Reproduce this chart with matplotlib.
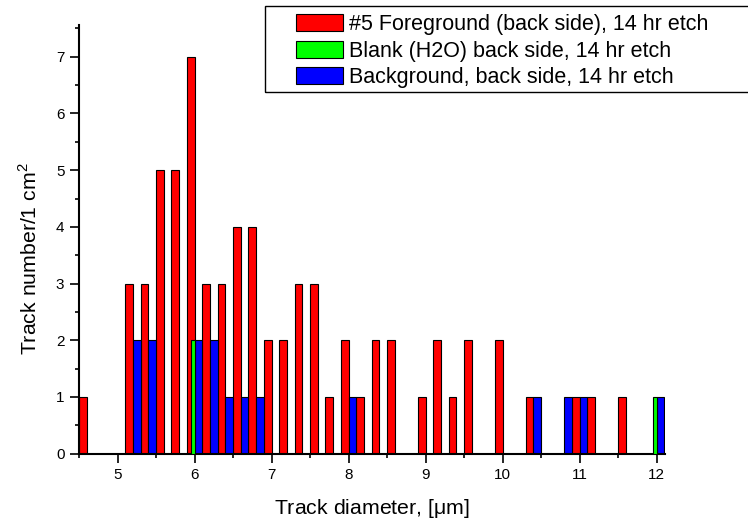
import matplotlib
matplotlib.use("Agg")
import matplotlib.pyplot as plt
from matplotlib.patches import Rectangle, Patch
from matplotlib.ticker import MultipleLocator

# Data
red_x = [4.6, 5.2, 5.4, 5.6, 5.8, 6.0, 6.2, 6.4, 6.6, 6.8, 7.0, 7.2, 7.4, 7.6,
         7.8, 8.0, 8.2, 8.4, 8.6, 9.0, 9.2, 9.4, 9.6, 10.0, 10.4, 11.0, 11.2, 11.6]
red_y = [1, 3, 3, 5, 5, 7, 3, 3, 4, 4, 2, 2, 3, 3,
         1, 2, 1, 2, 2, 1, 2, 1, 2, 2, 1, 1, 1, 1]
green_x = [6.0, 12.0]
green_y = [2, 1]
blue_x = [5.2, 5.4, 6.0, 6.2, 6.4, 6.6, 6.8, 8.0, 10.4, 10.8, 11.0, 12.0]
blue_y = [2, 2, 2, 2, 1, 1, 1, 1, 1, 1, 1, 1]

labels = ["#5 Foreground (back side), 14 hr etch",
          "Blank (H2O) back side, 14 hr etch",
          "Background, back side, 14 hr etch"]
colors = ["#FF0000", "#00FF00", "#0000FF"]

plt.rcParams['font.family'] = ['Liberation Sans', 'DejaVu Sans']

W, H = 748, 522
fig = plt.figure(figsize=(W / 100, H / 100), dpi=100)
ax = fig.add_axes([79 / W, (H - 453.7) / H, (665 - 79) / W, (453.7 - 25) / H])

ekw = dict(edgecolor="black", linewidth=0.8)
ax.bar(red_x, red_y, width=-0.1, align="edge", color=colors[0], **ekw, zorder=2)
ax.bar(green_x, green_y, width=-0.05, align="edge", color=colors[1], **ekw, zorder=3)
ax.bar(blue_x, blue_y, width=0.1, align="edge", color=colors[2], **ekw, zorder=2)

ax.set_xlim(4.5, 12.11)
ax.set_ylim(0, 7.56)
ax.xaxis.set_major_locator(MultipleLocator(1))
ax.xaxis.set_minor_locator(MultipleLocator(0.5))
ax.yaxis.set_major_locator(MultipleLocator(1))
ax.yaxis.set_minor_locator(MultipleLocator(0.5))

for s in ("top", "right"):
    ax.spines[s].set_visible(False)
for s in ("left", "bottom"):
    ax.spines[s].set_linewidth(1.5)

ax.tick_params(which="major", direction="out", length=6.5, width=1.2,
               labelsize=11, pad=4)
ax.tick_params(which="minor", direction="out", length=3.2, width=1.2)

ax.set_xlabel("Track diameter, [$\\mathregular{\\mu}$m]", fontsize=15.3, labelpad=10.5)
ax.set_ylabel("Track number/1 cm$^\\mathregular{2}$", fontsize=15.3)
ax.yaxis.set_label_coords(-38 / 586, 0.456)

# Legend
handles = [Patch(facecolor=c, edgecolor="black", linewidth=0.8) for c in colors]
leg = fig.legend(handles, labels, loc="upper left",
                 bbox_to_anchor=(294 / W, (H - 12) / H),
                 frameon=False, fontsize=15.5, handlelength=2.18,
                 handleheight=0.83, handletextpad=0.28, labelspacing=0.25,
                 borderpad=0.1, borderaxespad=0)
fig.patches.append(Rectangle((265 / W, (H - 91.5) / H), (760 - 265) / W,
                             (91.5 - 6) / H, transform=fig.transFigure,
                             fill=False, edgecolor="black", linewidth=1.0))

fig.savefig("out.png", dpi=100)
